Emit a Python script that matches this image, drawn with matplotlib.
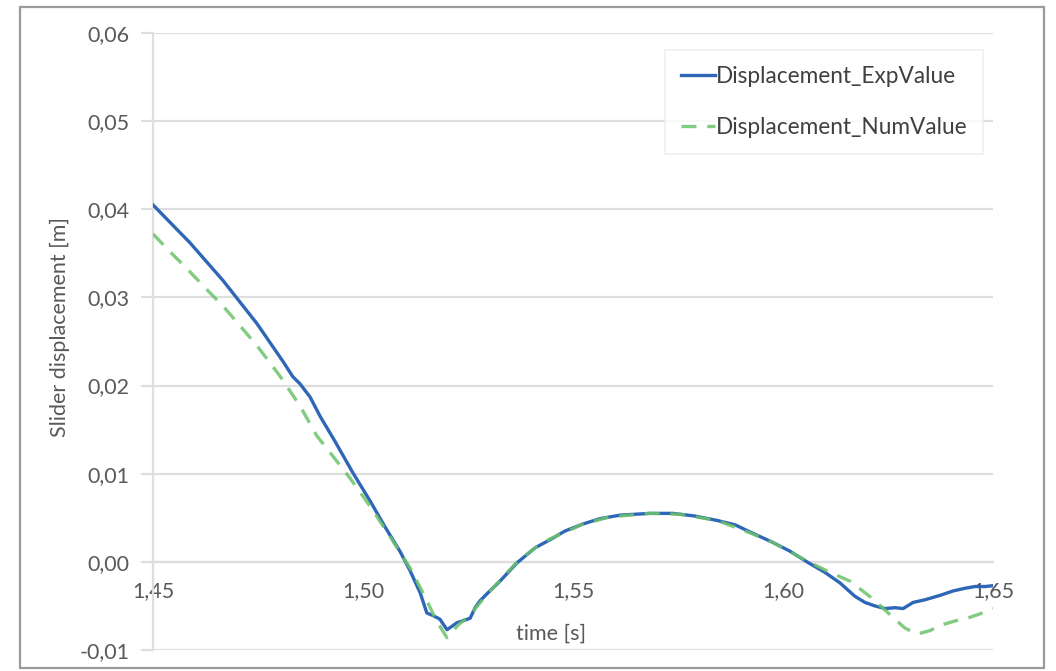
import matplotlib
matplotlib.use("Agg")
import matplotlib.pyplot as plt
from matplotlib.ticker import FuncFormatter, MultipleLocator
from matplotlib.patches import Rectangle

# Measured slider displacement (experiment)
t_exp = [1.4500, 1.4588, 1.4667, 1.4748, 1.4810, 1.4833, 1.4850, 1.4874, 1.4898,
         1.4933, 1.4976, 1.5017, 1.5052, 1.5088, 1.5112, 1.5136, 1.5152, 1.5167,
         1.5183, 1.5200, 1.5212, 1.5224, 1.5243, 1.5255, 1.5267, 1.5279, 1.5302,
         1.5326, 1.5367, 1.5410, 1.5445, 1.5481, 1.5524, 1.5564, 1.5612, 1.5683,
         1.5738, 1.5790, 1.5843, 1.5886, 1.5921, 1.5976, 1.6017, 1.6057, 1.6100,
         1.6136, 1.6171, 1.6195, 1.6219, 1.6243, 1.6267, 1.6286, 1.6310, 1.6338,
         1.6374, 1.6405, 1.6433, 1.6457, 1.6481, 1.6500]
d_exp = [0.0405, 0.0362, 0.0319, 0.0270, 0.0227, 0.0210, 0.0202, 0.0187, 0.0165,
         0.0137, 0.0101, 0.0069, 0.0040, 0.0012, -0.0010, -0.0035, -0.0058,
         -0.0061, -0.0065, -0.0077, -0.0073, -0.0069, -0.0066, -0.0064, -0.0052,
         -0.0044, -0.0033, -0.0022, -0.0001, 0.0016, 0.0025, 0.0035, 0.0043,
         0.0049, 0.0053, 0.0055, 0.0055, 0.0052, 0.0047, 0.0042, 0.0034, 0.0022,
         0.0012, 0.0000, -0.0012, -0.0024, -0.0039, -0.0046, -0.0050, -0.0053,
         -0.0052, -0.0053, -0.0046, -0.0043, -0.0038, -0.0033, -0.0030, -0.0028,
         -0.0028, -0.0027]

# Simulated slider displacement (numerical model)
t_num = [1.4500, 1.4540, 1.4576, 1.4624, 1.4667, 1.4707, 1.4748, 1.4802, 1.4850,
         1.4890, 1.4933, 1.4969, 1.5017, 1.5064, 1.5112, 1.5148, 1.5176, 1.5200,
         1.5226, 1.5255, 1.5290, 1.5326, 1.5367, 1.5410, 1.5445, 1.5524, 1.5588,
         1.5683, 1.5755, 1.5843, 1.5921, 1.5976, 1.6057, 1.6112, 1.6160, 1.6214,
         1.6255, 1.6290, 1.6319, 1.6350, 1.6374, 1.6410, 1.6438, 1.6469, 1.6500]
d_num = [0.0372, 0.0352, 0.0335, 0.0311, 0.0290, 0.0268, 0.0245, 0.0211, 0.0177,
         0.0143, 0.0117, 0.0095, 0.0063, 0.0029, -0.0007, -0.0040, -0.0068,
         -0.0086, -0.0072, -0.0060, -0.0040, -0.0021, 0.0000, 0.0016, 0.0026,
         0.0043, 0.0051, 0.0055, 0.0054, 0.0047, 0.0033, 0.0022, 0.0001, -0.0012,
         -0.0022, -0.0042, -0.0060, -0.0075, -0.0082, -0.0078, -0.0072, -0.0067,
         -0.0064, -0.0059, -0.0053]

series_labels = ["Displacement_ExpValue", "Displacement_NumValue"]
x_ticks = [1.45, 1.50, 1.55, 1.60, 1.65]
y_min, y_max, y_step = -0.01, 0.06, 0.01

plt.rcParams["font.family"] = ["Lato", "DejaVu Sans"]
FS = 15.5
TXT = "#595959"
GRID = "#dedede"

W, H = 1056, 671
fig = plt.figure(figsize=(W / 100, H / 100), dpi=100)
fig.patch.set_facecolor("white")

# Outer chart frame
fig.add_artist(Rectangle((20 / W, 1 - 668 / H), (1044 - 20) / W, (668 - 7) / H,
                         transform=fig.transFigure, fill=False,
                         edgecolor="#9a9a9a", linewidth=1.6))

ax = fig.add_axes([153 / W, 1 - 650 / H, (993 - 153) / W, (650 - 33) / H])
ax.set_xlim(x_ticks[0], x_ticks[-1])
ax.set_ylim(y_min, y_max)

ax.plot(t_exp, d_exp, color="#2e66b8", lw=2.4, solid_joinstyle="round",
        label=series_labels[0], zorder=3)
ax.plot(t_num, d_num, color="#6cc46c", lw=2.4, ls=(0, (4.5, 3.2)),
        label=series_labels[1], zorder=4, alpha=0.85)

comma = lambda fmt: FuncFormatter(lambda v, p: format(v, fmt).replace(".", ","))
ax.yaxis.set_major_locator(MultipleLocator(y_step))
ax.yaxis.set_major_formatter(comma(".2f"))
ax.set_xticks(x_ticks)
ax.xaxis.set_major_formatter(comma(".2f"))

ax.grid(axis="y", color=GRID, lw=1.6, zorder=0)
ax.set_axisbelow(True)
for s in ("top", "right"):
    ax.spines[s].set_visible(False)
ax.spines["left"].set_color(GRID)
ax.spines["left"].set_linewidth(1.6)
ax.spines["bottom"].set_position(("data", 0))
ax.spines["bottom"].set_color(GRID)
ax.spines["bottom"].set_linewidth(1.6)

ax.tick_params(axis="y", length=9, width=1.6, color=GRID, labelcolor=TXT,
               labelsize=FS, pad=8)
ax.tick_params(axis="x", length=0, labelcolor=TXT, labelsize=FS, pad=14)

fig.text(60 / W, 1 - 327 / H, "Slider displacement [m]", rotation=90,
         ha="center", va="center", color=TXT, fontsize=FS)
fig.text(551 / W, 1 - 634 / H, "time [s]", ha="center", va="center",
         color=TXT, fontsize=FS)

leg = ax.legend(loc="upper left", bbox_to_anchor=(665 / W, 1 - 50 / H),
                bbox_transform=fig.transFigure, borderaxespad=0,
                frameon=True, fancybox=False, fontsize=16.3,
                handlelength=1.5, handletextpad=0.05, labelspacing=1.35,
                borderpad=0.7, labelcolor="#404040")
leg.get_frame().set_edgecolor("#ececec")
leg.get_frame().set_linewidth(1.2)

fig.savefig("out.png", dpi=100, facecolor="white")
